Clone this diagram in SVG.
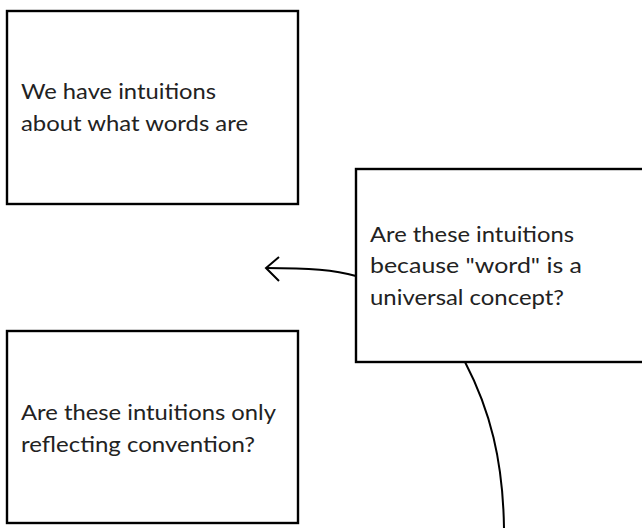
<svg xmlns="http://www.w3.org/2000/svg" width="642" height="528" viewBox="0 0 642 528">
<style>
.box{fill:#fff;stroke:#000;stroke-width:2.4}
.t{font-family:Lato,"Liberation Sans",sans-serif;font-size:20.5px;fill:#222}
.c{fill:none;stroke:#000;stroke-width:2}
</style>
<rect width="642" height="528" fill="#fff"/>
<g id="node1">
<rect class="box" x="7" y="11" width="291" height="193"/>
<text class="t" x="21" y="99" textLength="195" lengthAdjust="spacingAndGlyphs">We have intuitions</text>
<text class="t" x="21" y="131" textLength="227" lengthAdjust="spacingAndGlyphs">about what words are</text>
</g>
<g id="node2">
<rect class="box" x="356" y="169" width="300" height="193"/>
<text class="t" x="370" y="242" textLength="204" lengthAdjust="spacingAndGlyphs">Are these intuitions</text>
<text class="t" x="370" y="273" textLength="212" lengthAdjust="spacingAndGlyphs">because "word" is a</text>
<text class="t" x="370" y="305" textLength="194" lengthAdjust="spacingAndGlyphs">universal concept?</text>
</g>
<g id="node3">
<rect class="box" x="7" y="331" width="291" height="192"/>
<text class="t" x="21" y="420" textLength="255" lengthAdjust="spacingAndGlyphs">Are these intuitions only</text>
<text class="t" x="21" y="452" textLength="234" lengthAdjust="spacingAndGlyphs">reflecting convention?</text>
</g>
<g id="connectors">
<path class="c" d="M356,276 C335,270 310,268 266,268"/>
<path class="c" d="M279,257 L266,268 L279,281"/>
<path class="c" d="M465,362 C490,410 503,460 504,528"/>
</g>
</svg>
